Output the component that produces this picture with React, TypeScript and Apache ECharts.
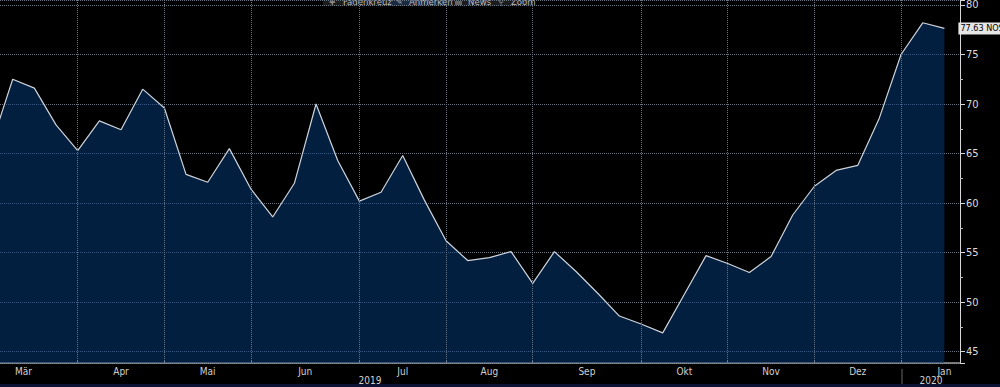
import React, { useEffect, useRef } from "react";
import * as echarts from "echarts";

// Weekly observations (one per week)
const dates: string[] = [
  "2019-03-10", "2019-03-17", "2019-03-24", "2019-03-31",
  "2019-04-07", "2019-04-14", "2019-04-21", "2019-04-28",
  "2019-05-05", "2019-05-12", "2019-05-19", "2019-05-26",
  "2019-06-02", "2019-06-09", "2019-06-16", "2019-06-23", "2019-06-30",
  "2019-07-07", "2019-07-14", "2019-07-21", "2019-07-28",
  "2019-08-04", "2019-08-11", "2019-08-18", "2019-08-25",
  "2019-09-01", "2019-09-08", "2019-09-15", "2019-09-22", "2019-09-29",
  "2019-10-06", "2019-10-13", "2019-10-20", "2019-10-27",
  "2019-11-03", "2019-11-10", "2019-11-17", "2019-11-24",
  "2019-12-01", "2019-12-08", "2019-12-15", "2019-12-22",
  "2020-01-05", "2020-01-12", "2020-01-19",
];

const values: number[] = [
  65.8, 72.5, 71.6, 67.9,
  65.3, 68.3, 67.4, 71.5,
  69.6, 62.9, 62.1, 65.5,
  61.4, 58.6, 62.0, 70.0, 64.3,
  60.2, 61.1, 64.8, 60.3,
  56.2, 54.2, 54.5, 55.1,
  51.9, 55.1, 53.1, 50.9, 48.6,
  47.8, 46.9, 50.8, 54.7,
  53.9, 53.0, 54.6, 58.8,
  61.7, 63.3, 63.8, 68.6,
  75.0, 78.2, 77.63,
];

const monthNames: string[] = ["Jan", "Feb", "Mär", "Apr", "Mai", "Jun", "Jul", "Aug", "Sep", "Okt", "Nov", "Dez"];
const yearLabels: string[] = ["2019", "2020"];
const seriesName = "NOS";
const toolbarItems: string[] = ["Fadenkreuz", "Anmerken", "News", "Zoom"];

type P = { y: number; m: number; d: number };
const parsed: P[] = dates.map((s) => {
  const [y, m, d] = s.split("-").map(Number);
  return { y, m, d };
});

// month starts (index of first observation of each month)
const monthStarts: { idx: number; y: number; m: number }[] = [];
parsed.forEach((p, i) => {
  if (i === 0 || p.m !== parsed[i - 1].m) monthStarts.push({ idx: i, y: p.y, m: p.m });
});
// first month: shift to true first weekly slot of that month
monthStarts[0] = { ...monthStarts[0], idx: -Math.floor((parsed[0].d - 1) / 7) };

const monthMids: { v: number; name: string }[] = monthStarts.map((s, k) => {
  let end: number;
  if (k < monthStarts.length - 1) end = monthStarts[k + 1].idx;
  else {
    const p = parsed[s.idx];
    const days = new Date(p.y, p.m, 0).getDate();
    const first = ((p.d - 1) % 7) + 1;
    end = s.idx + Math.floor((days - first) / 7) + 1;
  }
  return { v: (s.idx + end) / 2, name: monthNames[s.m - 1] };
});

const tickValues = monthStarts.map((s) => s.idx).filter((i) => i > 0);

const FONT = "'DejaVu Sans Condensed', 'Liberation Sans Narrow', 'Roboto', 'Liberation Sans', sans-serif";
const GRID_COLOR = "#6a7382";

export default function App() {
  const ref = useRef<HTMLDivElement>(null);
  useEffect(() => {
    if (!ref.current) return;
    const chart = echarts.init(ref.current, undefined, { renderer: "svg" });
    const last = values[values.length - 1];
    const tb = (x: number, text: string, size = 9.5, fill = "#bbbbbb") => ({
      type: "text",
      x,
      y: 6,
      style: { text, fill, fontSize: size, fontFamily: FONT, verticalAlign: "bottom" },
    });
    const option: any = {
      animation: false,
      backgroundColor: "#000000",
      grid: { left: 0, right: 40, top: 0, bottom: 24, containLabel: false, outerBoundsMode: "none" },
      xAxis: {
        type: "value",
        min: 0.414,
        max: 44.72,
        axisLine: { show: true, lineStyle: { color: "#9a9a9a", width: 1.5 } },
        axisTick: { show: true, inside: true, length: 3, customValues: tickValues, lineStyle: { color: "#c8c8c8" } },
        axisLabel: {
          customValues: monthMids.map((m) => m.v),
          formatter: (val: number) => {
            const f = monthMids.find((m) => Math.abs(m.v - val) < 0.01);
            return f ? f.name : "";
          },
          color: "#d0d0d0",
          fontSize: 10,
          fontFamily: FONT,
          margin: 3,
        },
        splitLine: { show: false },
      },
      yAxis: {
        type: "value",
        position: "right",
        min: 43.86,
        max: 80.5,
        splitNumber: 7,
        axisLine: { show: true, lineStyle: { color: "#d8d8d8", width: 1 } },
        axisTick: { show: true, length: 5, lineStyle: { color: "#d8d8d8" } },
        minorTick: { show: true, splitNumber: 2, length: 3, lineStyle: { color: "#bbbbbb" } },
        axisLabel: {
          color: "#dcdcdc",
          fontSize: 11,
          fontFamily: FONT,
          margin: 6,
          showMinLabel: false,
          showMaxLabel: false,
        },
        splitLine: {
          show: true,
          lineStyle: { type: "dotted", color: GRID_COLOR, width: 1 },
        },
      },
      series: [
        {
          name: seriesName,
          type: "line",
          data: values.map((v, i) => [i, v]),
          showSymbol: false,
          symbol: "none",
          clip: true,
          lineStyle: { color: "#cfd4dc", width: 1.2 },
          areaStyle: { color: "rgba(3,62,126,0.5)", opacity: 1, origin: "start" },
          endLabel: {
            show: true,
            formatter: () => `${last.toFixed(2)} ${seriesName}`,
            distance: 14,
            backgroundColor: "#e6e6e6",
            color: "#000",
            fontSize: 9,
            fontFamily: FONT,
            padding: [2, 2, 1, 2],
          },
          markLine: {
            silent: true,
            symbol: ["none", "none"],
            label: { show: false },
            lineStyle: { type: "dotted", color: GRID_COLOR, width: 1 },
            data: tickValues.map((v) => ({ xAxis: v })),
          },
        },
      ],
      graphic: [
        { type: "rect", left: 323, top: 0, shape: { width: 210, height: 6 }, style: { fill: "#1c1c1c" } },
        { type: "rect", left: 389, top: 0, shape: { width: 58, height: 6 }, style: { fill: "#1a2a40" } },
        tb(329, "✚", 8, "#888"),
        tb(343, toolbarItems[0]),
        tb(396, "✎", 9, "#aaa"),
        tb(409, toolbarItems[1]),
        { type: "rect", left: 455, top: 1, shape: { width: 7, height: 4 }, style: { fill: "#666" } },
        tb(468, toolbarItems[2]),
        tb(498, "⚲", 9, "#888"),
        tb(511, toolbarItems[3]),
        { type: "line", shape: { x1: 902, y1: 369, x2: 902, y2: 387 }, style: { stroke: "#666", lineWidth: 1 } },
        { type: "text", x: 370, y: 380, style: { text: yearLabels[0], fill: "#d0d0d0", fontSize: 10, fontFamily: FONT, align: "center", verticalAlign: "middle" } },
        { type: "text", x: 931, y: 380, style: { text: yearLabels[1], fill: "#d0d0d0", fontSize: 10, fontFamily: FONT, align: "center", verticalAlign: "middle" } },
        { type: "rect", left: 0, top: 384, shape: { width: 1000, height: 3 }, style: { fill: "#0b1233" } },
      ],
    };
    chart.setOption(option);
    return () => chart.dispose();
  }, []);
  return (
    <div
      ref={ref}
      style={{ position: "fixed", left: 0, top: 0, width: 1000, height: 387, background: "#000" }}
    />
  );
}
